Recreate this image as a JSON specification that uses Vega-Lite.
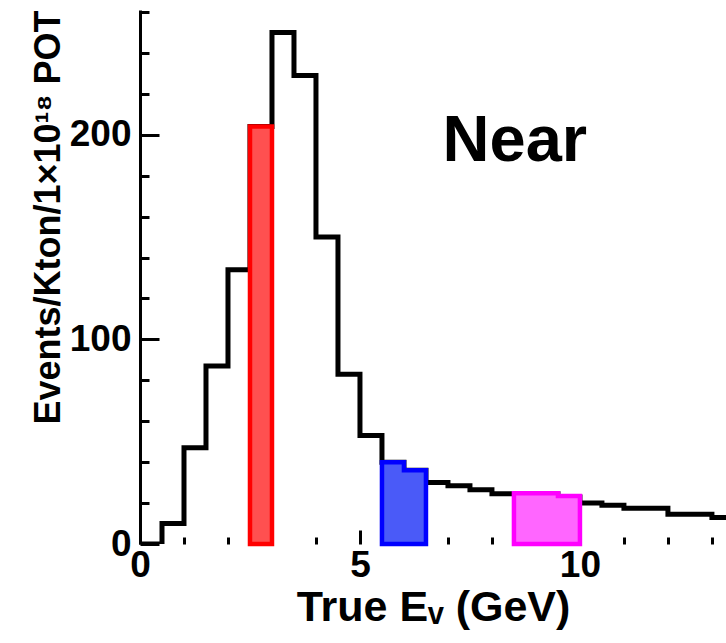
{
  "$schema": "https://vega.github.io/schema/vega-lite/v6.json",
  "autosize": {"type": "none"},
  "padding": {"left": 140, "top": 10, "right": 0, "bottom": 99},
  "width": 586,
  "height": 534,
  "background": "white",
  "config": {"view": {"stroke": null}, "font": "Liberation Sans"},
  "datasets": {
    "hist": [
      {"E": 0, "N": 0}, {"E": 0.5, "N": 10}, {"E": 1, "N": 47}, {"E": 1.5, "N": 87},
      {"E": 2, "N": 134}, {"E": 2.5, "N": 204}, {"E": 3, "N": 250}, {"E": 3.5, "N": 229},
      {"E": 4, "N": 150}, {"E": 4.5, "N": 83}, {"E": 5, "N": 53}, {"E": 5.5, "N": 40},
      {"E": 6, "N": 36}, {"E": 6.5, "N": 30}, {"E": 7, "N": 28.5}, {"E": 7.5, "N": 26.5},
      {"E": 8, "N": 24.5}, {"E": 8.5, "N": 24.5}, {"E": 9, "N": 24.5}, {"E": 9.5, "N": 23},
      {"E": 10, "N": 20}, {"E": 10.5, "N": 19}, {"E": 11, "N": 17.5}, {"E": 11.5, "N": 17.5},
      {"E": 12, "N": 14.5}, {"E": 12.5, "N": 14.5}, {"E": 13, "N": 13}, {"E": 13.5, "N": 13},
      {"E": 14, "N": 12}, {"E": 15, "N": 12}
    ],
    "sel": [
      {"E": 2.5, "N": 204, "s": "red"}, {"E": 3, "N": 204, "s": "red"},
      {"E": 5.5, "N": 40, "s": "blue"}, {"E": 6, "N": 36, "s": "blue"}, {"E": 6.5, "N": 36, "s": "blue"},
      {"E": 8.5, "N": 24.8, "s": "magenta"}, {"E": 9.5, "N": 23.5, "s": "magenta"}, {"E": 10, "N": 23.5, "s": "magenta"}
    ],
    "label": [{"E": 8.52, "N": 187, "t": "Near"}]
  },
  "layer": [
    {
      "data": {"name": "hist"},
      "mark": {"type": "line", "interpolate": "step-after", "color": "black", "strokeWidth": 5, "clip": true},
      "encoding": {
        "x": {"field": "E", "type": "quantitative", "scale": {"domain": [0, 13.32], "nice": false, "zero": false},
          "axis": {"orient": "bottom", "values": [0, 5, 10], "format": "d", "tickSize": -14, "tickWidth": 3, "tickColor": "black",
            "domain": false, "grid": false, "labelFontSize": 37, "labelFontWeight": "bold", "labelColor": "black", "labelPadding": 17,
            "labelFlush": false, "labelOverlap": false,
            "title": "True Eᵥ (GeV)", "titleFontSize": 43, "titleFontWeight": "bold", "titleColor": "black", "titlePadding": 3}},
        "y": {"field": "N", "type": "quantitative", "scale": {"domain": [0, 261], "nice": false},
          "axis": {"orient": "left", "values": [0, 100, 200], "format": "d", "tickSize": -19, "tickWidth": 3, "tickColor": "black",
            "domain": true, "domainColor": "black", "domainWidth": 3, "grid": false,
            "labelFontSize": 37, "labelFontWeight": "bold", "labelColor": "black", "labelPadding": 28, "labelFlush": false, "labelOverlap": false,
            "title": "Events/Kton/1×10¹⁸ POT", "titleFontSize": 36, "titleFontWeight": "bold", "titleColor": "black", "titlePadding": 2, "titleY": 207}}
      }
    },
    {
      "data": {"name": "sel"},
      "mark": {"type": "area", "interpolate": "step-after", "strokeWidth": 4.5},
      "encoding": {
        "x": {"field": "E", "type": "quantitative",
          "axis": {"orient": "bottom", "values": [1, 2, 3, 4, 6, 7, 8, 9, 11, 12, 13], "tickSize": -7, "tickWidth": 3, "tickColor": "black",
            "labels": false, "domain": false, "grid": false, "title": null}},
        "y": {"field": "N", "type": "quantitative", "stack": null,
          "axis": {"orient": "left", "values": [20, 40, 60, 80, 120, 140, 160, 180, 220, 240, 260], "tickSize": -9, "tickWidth": 3, "tickColor": "black",
            "labels": false, "domain": false, "grid": false, "title": null}},
        "detail": {"field": "s", "type": "nominal"},
        "fill": {"field": "s", "type": "nominal", "scale": {"domain": ["red", "blue", "magenta"], "range": ["#ff5050", "#4a5af8", "#ff66ff"]}, "legend": null},
        "stroke": {"field": "s", "type": "nominal", "scale": {"domain": ["red", "blue", "magenta"], "range": ["#ff0000", "#0000ff", "#ff00ff"]}, "legend": null}
      }
    },
    {
      "mark": {"type": "rule", "color": "#ff00ff", "strokeWidth": 4},
      "encoding": {"y": {"datum": 0, "axis": null}}
    },
    {
      "mark": {"type": "rule", "color": "black", "strokeWidth": 3},
      "encoding": {"y": {"datum": 261, "axis": null}}
    },
    {
      "data": {"name": "label"},
      "mark": {"type": "text", "fontSize": 65, "fontWeight": "bold", "align": "center", "baseline": "alphabetic", "color": "black"},
      "encoding": {
        "x": {"field": "E", "type": "quantitative", "axis": null},
        "y": {"field": "N", "type": "quantitative", "axis": null},
        "text": {"field": "t"}
      }
    }
  ],
  "resolve": {"axis": {"x": "independent", "y": "independent"}}
}
